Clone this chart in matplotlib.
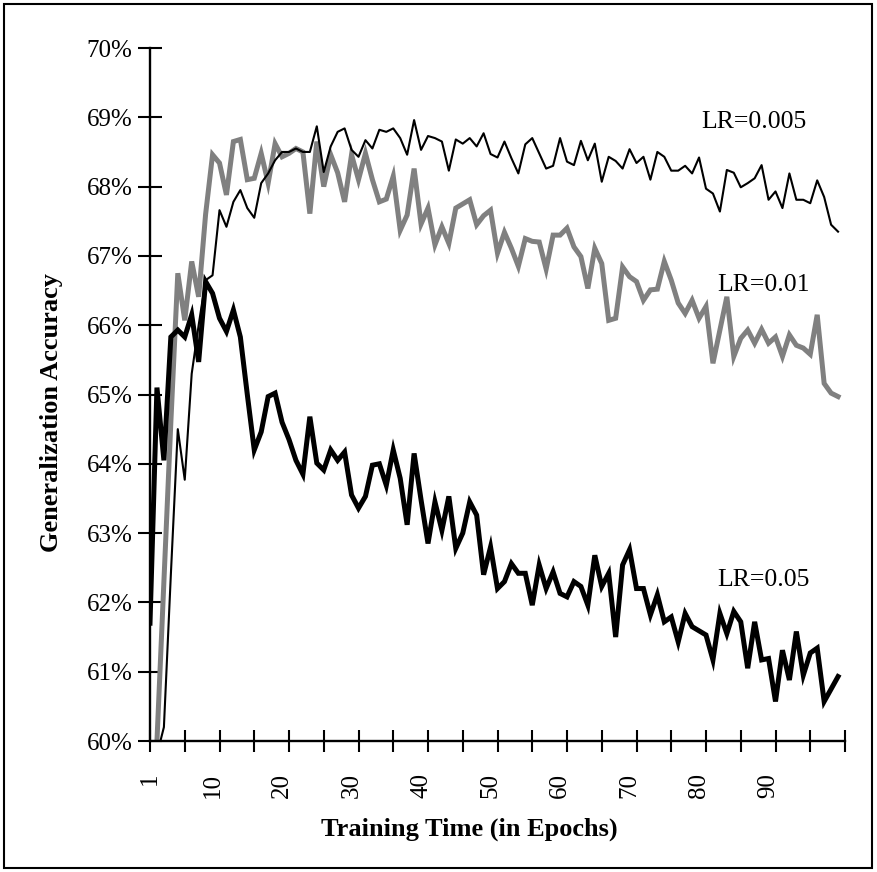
import matplotlib
matplotlib.use("Agg")
import matplotlib.pyplot as plt
from matplotlib.patches import Rectangle
from matplotlib.ticker import FuncFormatter

plt.rcParams['font.family'] = ['Liberation Serif', 'DejaVu Serif']

# epochs 1..100 (category axis)
epochs = list(range(1, 101))

acc_lr_005 = [  # LR=0.005, thin black
    59.5, 59.8, 60.2, 62.4, 64.5, 63.77, 65.3, 66.0, 66.65, 66.72,
    67.66, 67.42, 67.78, 67.95, 67.69, 67.55, 68.05, 68.19, 68.38, 68.5,
    68.5, 68.55, 68.5, 68.5, 68.87, 68.21, 68.58, 68.79, 68.84, 68.53,
    68.43, 68.67, 68.55, 68.82, 68.79, 68.84, 68.70, 68.46, 68.96, 68.53,
    68.73, 68.70, 68.65, 68.23, 68.68, 68.62, 68.70, 68.58, 68.77, 68.47,
    68.42, 68.65, 68.41, 68.19, 68.61, 68.70, 68.48, 68.26, 68.30, 68.70,
    68.36, 68.31, 68.66, 68.38, 68.62, 68.07, 68.43, 68.37, 68.26, 68.54,
    68.34, 68.43, 68.10, 68.50, 68.43, 68.23, 68.23, 68.30, 68.19, 68.42,
    67.97, 67.90, 67.64, 68.24, 68.20, 67.99, 68.05, 68.12, 68.31, 67.81,
    67.93, 67.69, 68.19, 67.81, 67.81, 67.76, 68.09, 67.85, 67.45, 67.35,
]

acc_lr_01 = [  # LR=0.01, gray
    59.5, 60.0, 62.3, 64.6, 66.75, 66.07, 66.92, 66.41, 67.6, 68.46,
    68.34, 67.88, 68.65, 68.68, 68.10, 68.12, 68.48, 68.05, 68.62, 68.43,
    68.48, 68.55, 68.5, 67.61, 68.65, 68.0, 68.46, 68.2, 67.78, 68.46,
    68.1, 68.48, 68.1, 67.78, 67.82, 68.15, 67.37, 67.59, 68.26, 67.46,
    67.69, 67.16, 67.42, 67.18, 67.69, 67.75, 67.81, 67.45, 67.58, 67.66,
    67.04, 67.34, 67.11, 66.85, 67.25, 67.21, 67.2, 66.81, 67.30, 67.30,
    67.40, 67.13, 66.99, 66.53, 67.11, 66.89, 66.07, 66.10, 66.84, 66.70,
    66.63, 66.36, 66.51, 66.52, 66.92, 66.65, 66.32, 66.17, 66.36, 66.10,
    66.27, 65.45, 65.93, 66.41, 65.55, 65.81, 65.93, 65.74, 65.94, 65.74,
    65.83, 65.55, 65.86, 65.71, 65.67, 65.58, 66.15, 65.16, 65.02, 64.97,
]

acc_lr_05 = [  # LR=0.05, thick black
    61.7, 65.1, 64.05, 65.83, 65.93, 65.83, 66.15, 65.47, 66.63, 66.46,
    66.10, 65.91, 66.22, 65.83, 65.0, 64.2, 64.46, 64.97, 65.02, 64.6,
    64.35, 64.05, 63.85, 64.68, 64.01, 63.91, 64.2, 64.05, 64.17, 63.55,
    63.36, 63.53, 63.98, 64.0, 63.69, 64.2, 63.79, 63.12, 64.15, 63.48,
    62.85, 63.45, 63.04, 63.53, 62.78, 63.0, 63.45, 63.26, 62.40, 62.80,
    62.20, 62.30, 62.56, 62.42, 62.42, 61.96, 62.54, 62.20, 62.44, 62.13,
    62.08, 62.30, 62.23, 61.96, 62.68, 62.23, 62.42, 61.50, 62.54, 62.76,
    62.20, 62.20, 61.82, 62.11, 61.72, 61.79, 61.43, 61.84, 61.65, 61.59,
    61.53, 61.17, 61.84, 61.55, 61.87, 61.72, 61.05, 61.72, 61.17, 61.19,
    60.57, 61.31, 60.88, 61.58, 60.95, 61.27, 61.34, 60.57, 60.75, 60.93,
]

x_labels = ['1', '10', '20', '30', '40', '50', '60', '70', '80', '90']

W, H = 877, 872
fig = plt.figure(figsize=(W / 100, H / 100), dpi=100)
ax = fig.add_axes([150 / W, 1 - 741 / H, 695 / W, 693 / H])

x = [e - 1 for e in epochs]
ax.plot(x, acc_lr_01, color='#808080', lw=3.6, solid_joinstyle='miter')
ax.plot(x, acc_lr_05, color='black', lw=3.6, solid_joinstyle='miter')
ax.plot(x, acc_lr_005, color='black', lw=1.5)

ax.set_xlim(0, 100)
ax.set_ylim(60, 70)

# tick marks every 5 epochs, labels at 1, 10, 20, ...
ax.xaxis.remove_overlapping_locs = False
ax.set_xticks(range(0, 101, 5))
ax.set_xticklabels([])
ax.set_xticks([int(l) - 1 for l in x_labels], minor=True)
ax.set_xticklabels(x_labels, minor=True, rotation=90, fontsize=18)
ax.tick_params(axis='x', which='major', direction='inout', length=16, width=1.5)
ax.tick_params(axis='x', which='minor', length=0, pad=23)

ax.set_yticks(range(60, 71))
ax.yaxis.set_major_formatter(FuncFormatter(lambda v, p: f'{v:.0f}%'))
ax.tick_params(axis='y', direction='inout', length=17, width=1.5, labelsize=18, pad=4)

for s in ['top', 'right']:
    ax.spines[s].set_visible(False)
for s in ['left', 'bottom']:
    ax.spines[s].set_linewidth(1.7)

ax.text(79.3, 68.93, 'LR=0.005', fontsize=18.5, va='center', ha='left')
ax.text(81.6, 66.58, 'LR=0.01', fontsize=18.5, va='center', ha='left')
ax.text(81.6, 62.32, 'LR=0.05', fontsize=18.5, va='center', ha='left')

fig.text(52 / W, 1 - 412 / H, 'Generalization Accuracy', rotation=90,
         fontsize=19, fontweight='bold', ha='center', va='center')
fig.text(469 / W, 1 - 836 / H, 'Training Time (in Epochs)',
         fontsize=19, fontweight='bold', ha='center', va='baseline')

# chart border
fig.patches.append(Rectangle((4 / W, 4 / H), 868 / W, 864 / H, transform=fig.transFigure,
                             fill=False, edgecolor='black', lw=1.5))

fig.savefig('out.png', dpi=100)
